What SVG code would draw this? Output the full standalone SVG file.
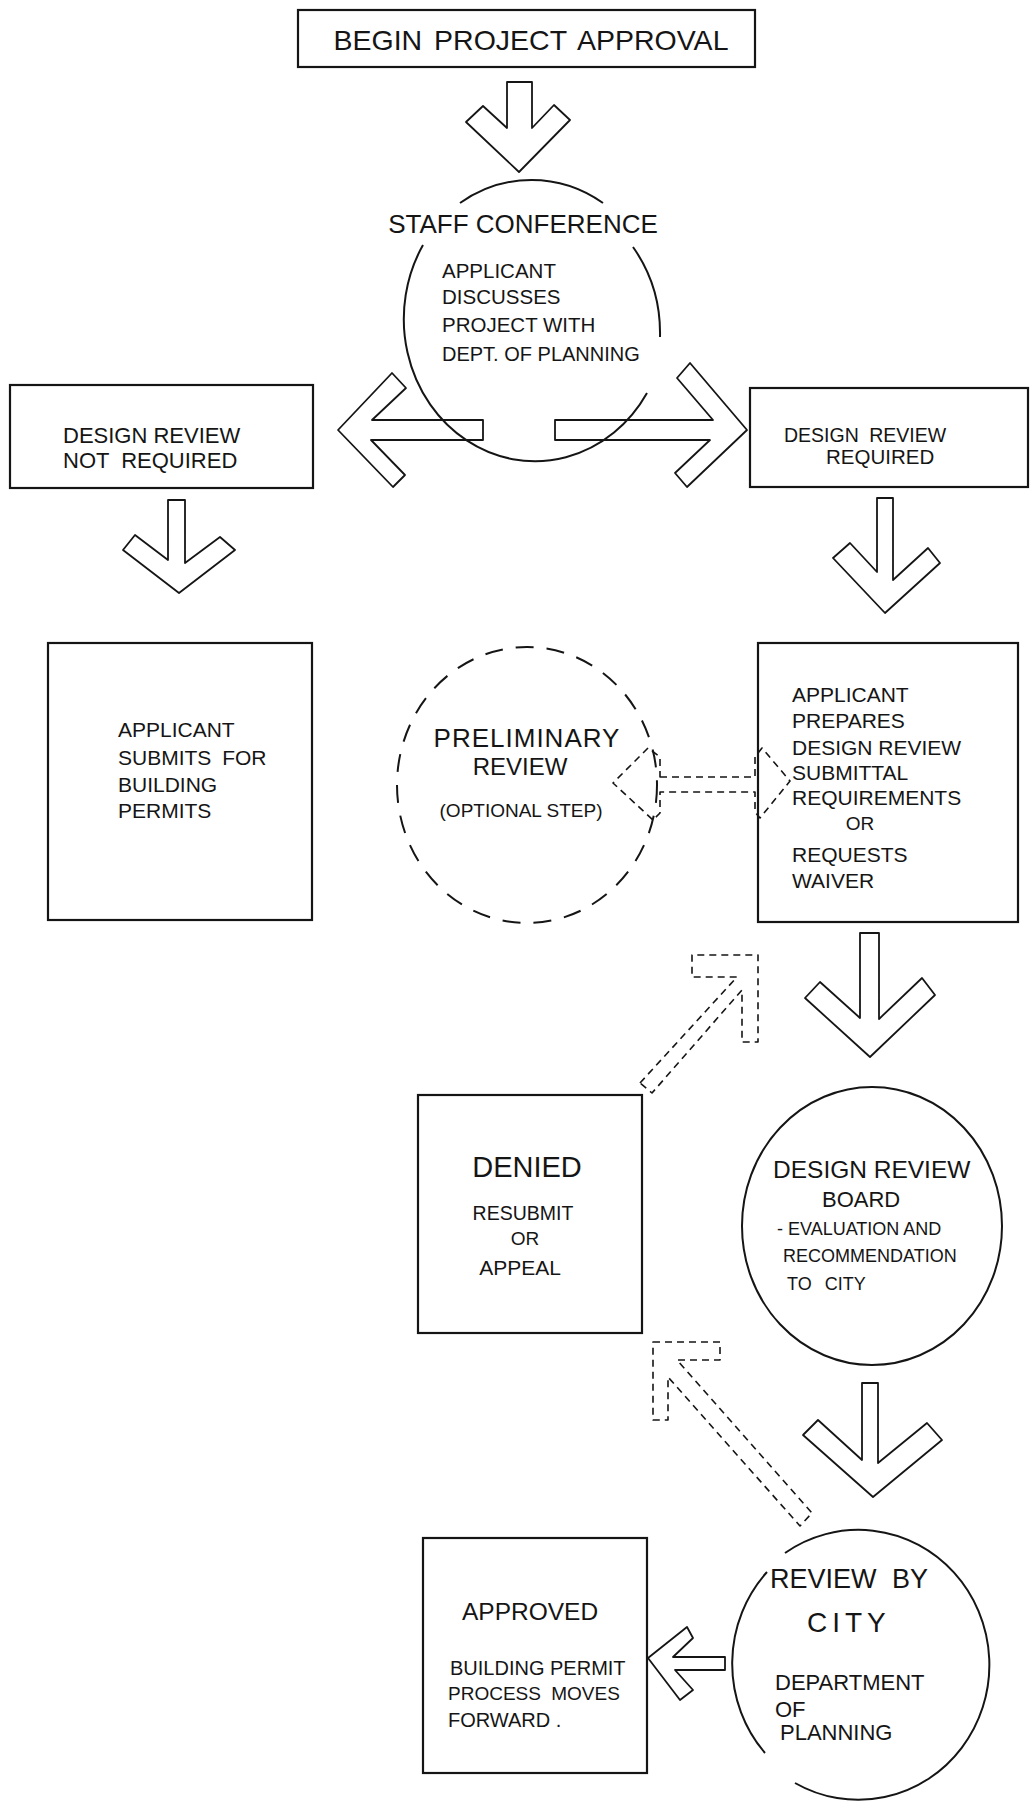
<svg xmlns="http://www.w3.org/2000/svg" width="1030" height="1803" viewBox="0 0 1030 1803">
<defs>
<style>
.box{fill:none;stroke:#151515;stroke-width:2.2}
.ring{fill:none;stroke:#151515;stroke-width:2}
.dring{fill:none;stroke:#151515;stroke-width:2;stroke-dasharray:18 13}
.arrow{fill:none;stroke:#151515;stroke-width:1.8;stroke-linejoin:round}
.darrow{fill:none;stroke:#151515;stroke-width:1.6;stroke-dasharray:7 5;stroke-linejoin:round}
text{font-family:"Liberation Sans",Arial,sans-serif;fill:#151515}
.mid{text-anchor:middle}
</style>
</defs>
<rect width="1030" height="1803" fill="#fff"/>

<g id="connectors">
  <polygon class="arrow" points="507,82 532,82 532,128 554,105 570,120 519,172 466,122 483,106 507,128"/>
  <polygon class="arrow" points="483,420 372,420 406,388 392,373 338,430 393,487 405,475 371,440 483,440"/>
  <polygon class="arrow" points="555,420 713,420 677,378 690,363 747,430 687,487 675,473 710,440 555,440"/>
  <polygon class="arrow" points="168,500 185,500 185,563 220,537 235,550 179,593 123,550 135,535 168,560"/>
  <polygon class="arrow" points="877,498 893,498 893,580 928,548 940,563 885,613 833,558 850,543 877,572"/>
  <polygon class="darrow" points="660,777 755,777 755,757 762,748 790,781 760,818 755,812 755,792 660,792 660,813 653,820 613,783 648,748 660,757"/>
  <polygon class="arrow" points="860,933 879,933 879,1019 922,978 935,995 870,1057 805,998 820,982 860,1018"/>
  <polygon class="darrow" points="640,1083 737,977 692,977 692,955 758,955 758,1042 742,1042 742,990 652,1093"/>
  <polygon class="arrow" points="862,1383 878,1383 878,1463 927,1423 942,1440 873,1497 803,1435 818,1420 862,1460"/>
  <polygon class="darrow" points="653,1342 720,1342 720,1360 677,1360 812,1513 800,1526 668,1377 668,1420 653,1420"/>
  <polygon class="arrow" points="725,1657 673,1657 693,1638 687,1627 648,1658 680,1700 693,1690 675,1670 725,1670"/>
</g>

<g id="begin">
  <rect class="box" x="298" y="10" width="457" height="57"/>
  <text class="mid" x="531" y="50" font-size="28.5" word-spacing="4">BEGIN PROJECT APPROVAL</text>
</g>

<g id="staff-conference">
  <path class="ring" d="M460,203 A131,142 0 0 1 603,203"/>
  <path class="ring" d="M423,245 A131,142 0 1 0 647,393"/>
  <path class="ring" d="M633,247 A131,142 0 0 1 660,337"/>
  <text class="mid" x="523" y="233" font-size="26">STAFF CONFERENCE</text>
  <text x="442" y="278" font-size="20.5">APPLICANT</text>
  <text x="442" y="304" font-size="20.5">DISCUSSES</text>
  <text x="442" y="332" font-size="20.5">PROJECT WITH</text>
  <text x="442" y="361" font-size="20">DEPT. OF PLANNING</text>
</g>

<g id="design-review-not-required">
  <rect class="box" x="10" y="385" width="303" height="103"/>
  <text x="63" y="443" font-size="22">DESIGN REVIEW</text>
  <text x="63" y="468" font-size="22" word-spacing="6">NOT REQUIRED</text>
</g>

<g id="design-review-required">
  <rect class="box" x="750" y="388" width="278" height="99"/>
  <text x="784" y="442" font-size="19.5" word-spacing="5">DESIGN REVIEW</text>
  <text x="826" y="464" font-size="20.5">REQUIRED</text>
</g>

<g id="submits-building-permits">
  <rect class="box" x="48" y="643" width="264" height="277"/>
  <text x="118" y="737" font-size="21">APPLICANT</text>
  <text x="118" y="765" font-size="21" word-spacing="5">SUBMITS FOR</text>
  <text x="118" y="792" font-size="21">BUILDING</text>
  <text x="118" y="818" font-size="21">PERMITS</text>
</g>

<g id="preliminary-review">
  <ellipse class="dring" cx="527" cy="785" rx="130" ry="138"/>
  <text class="mid" x="527" y="747" font-size="26" letter-spacing="1">PRELIMINARY</text>
  <text class="mid" x="520" y="775" font-size="24">REVIEW</text>
  <text class="mid" x="521" y="817" font-size="19">(OPTIONAL STEP)</text>
</g>

<g id="prepares-submittal">
  <rect class="box" x="758" y="643" width="260" height="279"/>
  <text x="792" y="702" font-size="21">APPLICANT</text>
  <text x="792" y="728" font-size="21">PREPARES</text>
  <text x="792" y="755" font-size="21">DESIGN REVIEW</text>
  <text x="792" y="780" font-size="21">SUBMITTAL</text>
  <text x="792" y="805" font-size="21">REQUIREMENTS</text>
  <text class="mid" x="860" y="830" font-size="19">OR</text>
  <text x="792" y="862" font-size="21">REQUESTS</text>
  <text x="792" y="888" font-size="21">WAIVER</text>
</g>

<g id="denied">
  <rect class="box" x="418" y="1095" width="224" height="238"/>
  <text class="mid" x="527" y="1177" font-size="29">DENIED</text>
  <text class="mid" x="523" y="1220" font-size="19.5">RESUBMIT</text>
  <text class="mid" x="525" y="1245" font-size="19">OR</text>
  <text class="mid" x="520" y="1275" font-size="21">APPEAL</text>
</g>

<g id="design-review-board">
  <ellipse class="ring" cx="872" cy="1226" rx="130" ry="139"/>
  <text x="773" y="1178" font-size="24.5">DESIGN REVIEW</text>
  <text x="822" y="1207" font-size="22">BOARD</text>
  <text x="777" y="1235" font-size="18">- EVALUATION AND</text>
  <text x="783" y="1262" font-size="18">RECOMMENDATION</text>
  <text x="787" y="1290" font-size="18" word-spacing="8">TO CITY</text>
</g>

<g id="approved">
  <rect class="box" x="423" y="1538" width="224" height="235"/>
  <text x="462" y="1620" font-size="24.5">APPROVED</text>
  <text x="450" y="1675" font-size="20">BUILDING PERMIT</text>
  <text x="448" y="1700" font-size="19" word-spacing="5">PROCESS MOVES</text>
  <text x="448" y="1727" font-size="20">FORWARD .</text>
</g>

<g id="review-by-city">
  <path class="ring" d="M785,1553 A131,135 0 1 1 795,1783"/>
  <path class="ring" d="M767,1572 A131,135 0 0 0 765,1753"/>
  <text x="770" y="1588" font-size="27" word-spacing="8">REVIEW BY</text>
  <text x="807" y="1632" font-size="28" letter-spacing="5">CITY</text>
  <text x="775" y="1690" font-size="22">DEPARTMENT</text>
  <text x="775" y="1717" font-size="22">OF</text>
  <text x="780" y="1740" font-size="22">PLANNING</text>
</g>
</svg>
